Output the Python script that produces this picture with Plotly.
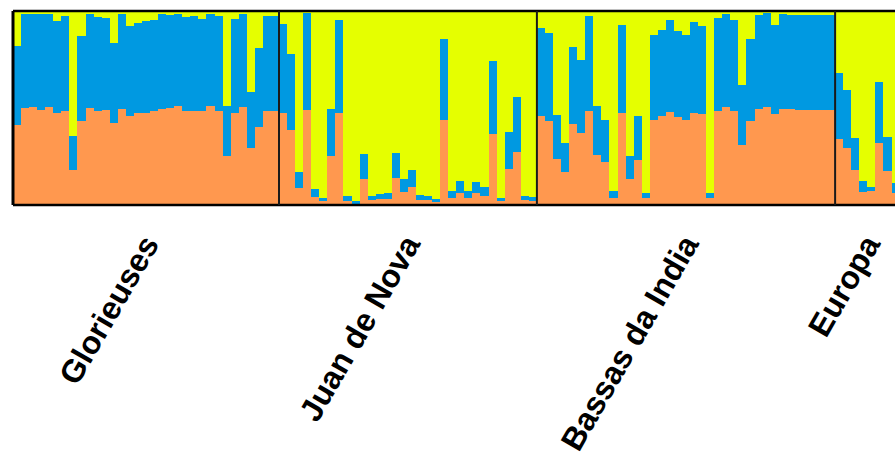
import plotly.graph_objects as go

# Population labels
populations = ["Glorieuses", "Juan de Nova", "Bassas da India", "Europa"]

# Ancestry proportions per individual: orange (cluster 1), blue (cluster 2), yellow (cluster 3)
glorieuses_orange = [0.412, 0.500, 0.505, 0.490, 0.505, 0.474, 0.485, 0.180, 0.433, 0.500, 0.485,
                     0.490, 0.423, 0.495, 0.459, 0.474, 0.474, 0.485, 0.495, 0.500, 0.510, 0.485,
                     0.485, 0.485, 0.510, 0.485, 0.253, 0.474, 0.505, 0.294, 0.402, 0.485, 0.485]
glorieuses_blue = [0.407, 0.485, 0.479, 0.495, 0.479, 0.474, 0.490, 0.175, 0.438, 0.485, 0.485,
                   0.474, 0.412, 0.490, 0.464, 0.464, 0.474, 0.469, 0.490, 0.479, 0.479, 0.485,
                   0.490, 0.474, 0.479, 0.490, 0.258, 0.485, 0.479, 0.289, 0.407, 0.490, 0.490]
glorieuses_yellow = [0.180, 0.015, 0.015, 0.015, 0.015, 0.052, 0.026, 0.644, 0.129, 0.015, 0.031,
                     0.036, 0.165, 0.015, 0.077, 0.062, 0.052, 0.046, 0.015, 0.021, 0.010, 0.031,
                     0.026, 0.041, 0.010, 0.026, 0.490, 0.041, 0.015, 0.418, 0.191, 0.026, 0.026]

juan_orange = [0.474, 0.387, 0.088, 0.490, 0.041, 0.021, 0.253, 0.474, 0.021, 0.010, 0.134,
               0.026, 0.031, 0.031, 0.139, 0.067, 0.093, 0.026, 0.026, 0.015, 0.438, 0.036,
               0.062, 0.036, 0.062, 0.046, 0.366, 0.021, 0.186, 0.273, 0.026, 0.021]
juan_blue = [0.459, 0.392, 0.082, 0.500, 0.041, 0.015, 0.242, 0.479, 0.026, 0.010, 0.129,
             0.021, 0.026, 0.031, 0.129, 0.067, 0.088, 0.026, 0.021, 0.015, 0.418, 0.036,
             0.062, 0.036, 0.057, 0.046, 0.376, 0.015, 0.191, 0.284, 0.021, 0.021]
juan_yellow = [0.067, 0.222, 0.830, 0.010, 0.918, 0.964, 0.505, 0.046, 0.954, 0.979, 0.737,
               0.954, 0.943, 0.938, 0.732, 0.866, 0.820, 0.948, 0.954, 0.969, 0.144, 0.928,
               0.876, 0.928, 0.881, 0.907, 0.258, 0.964, 0.624, 0.443, 0.954, 0.959]

bassas_orange = [0.459, 0.433, 0.237, 0.170, 0.418, 0.371, 0.485, 0.258, 0.222, 0.036, 0.474,
                 0.134, 0.232, 0.036, 0.438, 0.459, 0.479, 0.454, 0.438, 0.474, 0.469, 0.036,
                 0.485, 0.505, 0.485, 0.309, 0.433, 0.495, 0.505, 0.469, 0.495, 0.495, 0.490,
                 0.490, 0.490, 0.490, 0.490]
bassas_blue = [0.454, 0.454, 0.227, 0.149, 0.397, 0.376, 0.490, 0.253, 0.216, 0.036, 0.454,
               0.119, 0.227, 0.026, 0.438, 0.443, 0.474, 0.443, 0.438, 0.469, 0.454, 0.026,
               0.479, 0.479, 0.469, 0.309, 0.423, 0.485, 0.485, 0.459, 0.490, 0.485, 0.490,
               0.490, 0.490, 0.490, 0.490]
bassas_yellow = [0.088, 0.113, 0.536, 0.680, 0.186, 0.253, 0.026, 0.490, 0.562, 0.928, 0.072,
                 0.747, 0.541, 0.938, 0.124, 0.098, 0.046, 0.103, 0.124, 0.057, 0.077, 0.938,
                 0.036, 0.015, 0.046, 0.381, 0.144, 0.021, 0.010, 0.072, 0.015, 0.021, 0.021,
                 0.021, 0.021, 0.021, 0.021]

europa_orange = [0.340, 0.294, 0.180, 0.067, 0.072, 0.320, 0.175, 0.062]
europa_blue = [0.340, 0.299, 0.165, 0.057, 0.021, 0.314, 0.175, 0.052]
europa_yellow = [0.320, 0.407, 0.655, 0.876, 0.907, 0.366, 0.649, 0.887]

orange = glorieuses_orange + juan_orange + bassas_orange + europa_orange
blue = glorieuses_blue + juan_blue + bassas_blue + europa_blue
yellow = glorieuses_yellow + juan_yellow + bassas_yellow + europa_yellow
sizes = [len(glorieuses_orange), len(juan_orange), len(bassas_orange), len(europa_orange)]

idx = list(range(len(orange)))

colors = {"orange": "#FF984F", "blue": "#0099E1", "yellow": "#E5FF00"}

fig = go.Figure()
for vals, key in [(orange, "orange"), (blue, "blue"), (yellow, "yellow")]:
    fig.add_trace(go.Bar(x=idx, y=vals, width=1.0, marker=dict(color=colors[key], line=dict(width=0)),
                         showlegend=False, hoverinfo="skip"))

# group boundaries and centres
bounds = []
start = 0
centers = []
for n in sizes:
    centers.append(start + (n - 1) / 2)
    start += n
    bounds.append(start - 0.5)

shapes = []
# frame: top, bottom, left
shapes.append(dict(type="line", xref="paper", yref="paper", x0=0, x1=1, y0=1, y1=1,
                   line=dict(color="black", width=2.5)))
shapes.append(dict(type="line", xref="paper", yref="paper", x0=0, x1=1, y0=0, y1=0,
                   line=dict(color="black", width=2.5)))
shapes.append(dict(type="line", xref="paper", yref="paper", x0=0, x1=0, y0=0, y1=1,
                   line=dict(color="black", width=3)))
for b in bounds[:-1]:
    shapes.append(dict(type="line", xref="x", yref="paper", x0=b, x1=b, y0=0, y1=1,
                       line=dict(color="#1a1a1a", width=2)))

annotations = []
for name, c in zip(populations, centers):
    annotations.append(dict(x=c, y=0, xref="x", yref="paper", text=name, showarrow=False,
                            textangle=-60, xanchor="right", yanchor="top", xshift=21, yshift=-23,
                            borderpad=0,
                            font=dict(family="Liberation Sans, Arial, sans-serif", size=32,
                                      color="black", weight="bold")))

fig.update_layout(
    width=895, height=453,
    margin=dict(l=13, r=0, t=11, b=248),
    barmode="stack", bargap=0,
    plot_bgcolor="white", paper_bgcolor="white",
    xaxis=dict(visible=False, range=[-0.5, 108.93]),
    yaxis=dict(visible=False, range=[0, 1]),
    shapes=shapes, annotations=annotations,
)

fig.write_html("out.html")
